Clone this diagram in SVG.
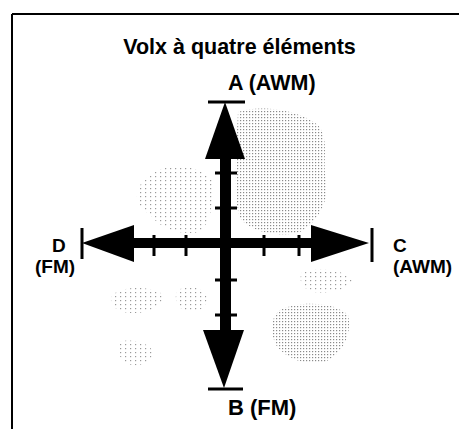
<svg xmlns="http://www.w3.org/2000/svg" width="459" height="429" viewBox="0 0 459 429">
<defs>
<pattern id="dots" width="3" height="3" patternUnits="userSpaceOnUse">
<rect x="0" y="0" width="1.2" height="1.2" fill="#8a8a8a"/>
</pattern>
<pattern id="sparse" width="5" height="4" patternUnits="userSpaceOnUse">
<rect x="0" y="0" width="1.2" height="1.2" fill="#9a9a9a"/>
</pattern>
</defs>
<style>
.t{font-family:"Liberation Sans",Arial,sans-serif;font-weight:bold;fill:#000}
.blk{fill:#000}
.bar{stroke:#000;stroke-width:3;fill:none}
.frame{stroke:#000;stroke-width:2;fill:none}
</style>
<rect width="459" height="429" fill="#fff"/>
<g id="frame">
<path class="frame" d="M12,14 H459 M12,14 V429"/>
</g>
<g id="stipple">
<path fill="url(#dots)" d="M238,112 C260,104 300,110 318,125 C330,140 322,160 326,180 C330,200 318,222 300,232 C280,238 250,232 240,218 C234,200 236,170 236,150 Z"/>
<path fill="url(#sparse)" d="M150,175 C170,160 200,165 212,180 C214,200 212,220 200,232 C180,236 160,228 150,215 C135,205 130,190 150,175 Z"/>
<path fill="url(#sparse)" d="M112,295 C125,285 150,286 162,294 C165,305 150,314 130,313 C115,312 108,303 112,295 Z"/>
<path fill="url(#sparse)" d="M178,290 C190,284 205,288 207,298 C206,310 195,314 183,310 C175,304 174,296 178,290 Z"/>
<path fill="url(#sparse)" d="M120,342 C132,338 150,343 153,352 C152,362 140,368 128,364 C118,358 115,348 120,342 Z"/>
<path fill="url(#dots)" d="M280,310 C300,300 335,302 348,315 C352,332 345,352 325,362 C305,366 285,358 276,345 C270,332 270,318 280,310 Z"/>
<path fill="url(#sparse)" d="M302,272 C320,266 345,270 352,280 C350,290 330,294 312,292 C302,288 298,280 302,272 Z"/>
</g>
<g id="connectors">
<rect class="blk" x="220" y="156" width="11" height="176"/>
<rect class="blk" x="132" y="238" width="181" height="10"/>
<polygon class="blk" points="225,102 245,159 205,159"/>
<polygon class="blk" points="203,330 244,330 224,388"/>
<polygon class="blk" points="82,243 134,225 134,262"/>
<polygon class="blk" points="311,225 311,262 369,243"/>
<path class="bar" d="M208,102 H245 M208,389 H243 M82,228 V259 M372,228 V262"/>
<path class="bar" d="M154,235 V256 M186,235 V256 M264,235 V256 M299,235 V256 M215,173 H237 M215,208 H237 M215,280 H237 M215,315 H237"/>
</g>
<g id="title"><text class="t" x="239.5" y="54" font-size="21.5" text-anchor="middle">Volx à quatre éléments</text></g>
<g id="node-A"><text class="t" x="228" y="90" font-size="21.5">A (AWM)</text></g>
<g id="node-B"><text class="t" x="228" y="415" font-size="22">B (FM)</text></g>
<g id="node-C"><text class="t" x="393" y="252" font-size="19">C</text><text class="t" x="393" y="273" font-size="19">(AWM)</text></g>
<g id="node-D"><text class="t" x="52" y="252" font-size="19">D</text><text class="t" x="35" y="273" font-size="19">(FM)</text></g>
</svg>
